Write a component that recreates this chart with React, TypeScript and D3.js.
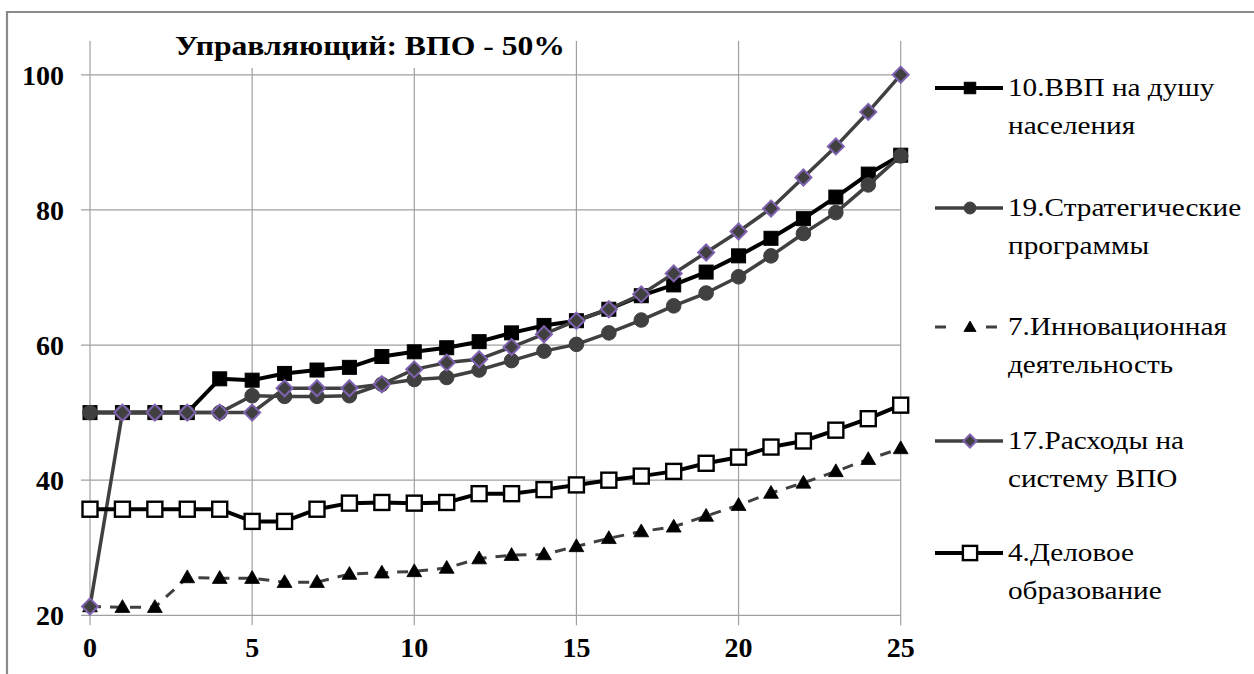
import React from "react";
import * as d3 from "d3";

// Years of the forecast horizon
const steps: number[] = d3.range(0, 26);

// 10. ВВП на душу населения
const gdpPerCapita: number[] = [50, 50, 50, 50, 55, 54.8, 55.8, 56.3, 56.7, 58.3, 59.0, 59.6, 60.5, 61.8, 62.9, 63.6, 65.3, 67.3, 68.9, 70.8, 73.2, 75.8, 78.7, 81.9, 85.3, 88.1];
// 19. Стратегические программы
const strategicPrograms: number[] = [50, 50, 50, 50, 50, 52.5, 52.4, 52.4, 52.5, 54.2, 54.9, 55.2, 56.3, 57.7, 59.1, 60.1, 61.8, 63.7, 65.8, 67.7, 70.1, 73.2, 76.5, 79.6, 83.7, 88.0];
// 7. Инновационная деятельность
const innovation: number[] = [21.3, 21.2, 21.2, 25.6, 25.5, 25.5, 24.9, 24.9, 26.1, 26.3, 26.5, 27.0, 28.4, 28.9, 29.0, 30.2, 31.4, 32.4, 33.1, 34.7, 36.3, 38.1, 39.6, 41.3, 43.1, 44.7];
// 17. Расходы на систему ВПО
const heSpending: number[] = [21.3, 50, 50, 50, 50, 50, 53.6, 53.6, 53.6, 54.2, 56.4, 57.4, 57.9, 59.7, 61.6, 63.6, 65.3, 67.5, 70.6, 73.7, 76.8, 80.2, 84.8, 89.4, 94.5, 100];
// 4. Деловое образование
const businessEducation: number[] = [35.7, 35.7, 35.7, 35.7, 35.7, 33.9, 33.9, 35.7, 36.6, 36.7, 36.6, 36.7, 38.0, 38.0, 38.6, 39.3, 40.0, 40.6, 41.3, 42.5, 43.4, 44.9, 45.8, 47.4, 49.1, 51.1];

const xTicks: number[] = [0, 5, 10, 15, 20, 25];
const yTicks: number[] = [20, 40, 60, 80, 100];

const chartTitle = "Управляющий: ВПО - 50%";

type Marker = "square" | "circle" | "triangle" | "diamond" | "openSquare";

interface Series {
  lines: string[];
  values: number[];
  stroke: string;
  width: number;
  dash?: string;
  legendDash?: string;
  marker: Marker;
  fill: string;
  markerStroke: string;
}

const series: Series[] = [
  { lines: ["10.ВВП на душу", "населения"], values: gdpPerCapita, stroke: "#000000", width: 4, marker: "square", fill: "#000000", markerStroke: "#000000" },
  { lines: ["19.Стратегические", "программы"], values: strategicPrograms, stroke: "#404040", width: 3.5, marker: "circle", fill: "#404040", markerStroke: "#404040" },
  { lines: ["7.Инновационная", "деятельность"], values: innovation, stroke: "#404040", width: 3, dash: "11,9", legendDash: "11,40", marker: "triangle", fill: "#000000", markerStroke: "#000000" },
  { lines: ["17.Расходы на", "систему ВПО"], values: heSpending, stroke: "#404040", width: 3.5, marker: "diamond", fill: "#404040", markerStroke: "#7f62b0" },
  { lines: ["4.Деловое", "образование"], values: businessEducation, stroke: "#000000", width: 4, marker: "openSquare", fill: "#ffffff", markerStroke: "#000000" },
];

const W = 1254;
const H = 674;
const FONT = '"Liberation Serif", "Times New Roman", serif';
const GRID = "#a0a0a0";

const x = d3.scaleLinear().domain([0, 25]).range([90, 900.7]);
const y = d3.scaleLinear().domain([20, 105]).range([615.3, 41]);

function MarkerShape({ kind, cx, cy, fill, stroke, scale = 1 }: { kind: Marker; cx: number; cy: number; fill: string; stroke: string; scale?: number }) {
  switch (kind) {
    case "square": {
      const s = 14 * scale;
      return <rect x={cx - s / 2} y={cy - s / 2} width={s} height={s} fill={fill} stroke={stroke} strokeWidth={1} />;
    }
    case "openSquare": {
      const s = 15 * scale;
      return <rect x={cx - s / 2} y={cy - s / 2} width={s} height={s} fill={fill} stroke={stroke} strokeWidth={2.4} />;
    }
    case "circle":
      return <circle cx={cx} cy={cy} r={7.3 * scale} fill={fill} stroke={stroke} strokeWidth={1} />;
    case "triangle": {
      const p = d3.symbol(d3.symbolTriangle, 95 * scale * scale)();
      return <path d={p ?? ""} transform={`translate(${cx},${cy + 1})`} fill={fill} stroke={stroke} strokeWidth={0.8} />;
    }
    case "diamond": {
      const r = 8 * scale;
      return (
        <path
          d={`M${cx},${cy - r}L${cx + r},${cy}L${cx},${cy + r}L${cx - r},${cy}Z`}
          fill={fill}
          stroke={stroke}
          strokeWidth={2}
        />
      );
    }
  }
}

const textStyle: React.CSSProperties = { fontFamily: FONT };

export default function App() {
  const line = d3
    .line<number>()
    .x((_, i) => x(steps[i]))
    .y((v) => y(v));

  const legendX0 = 935;
  const legendX1 = 1003;
  const legendMarkX = 970;
  const legendTextX = 1008;
  const legendY = [88, 208, 327, 441, 553];

  return (
    <svg width={W} height={H} style={{ position: "absolute", left: 0, top: 0, background: "#fff" }}>
      <rect x={0} y={0} width={W} height={H} fill="#ffffff" />
      {/* outer frame */}
      <path d={`M7,${H + 5}L7,12L${W + 5},12`} fill="none" stroke="#8a8a8a" strokeWidth={2.2} />

      {/* vertical grid */}
      {xTicks.map((t) => (
        <line key={`vx${t}`} x1={x(t)} x2={x(t)} y1={y(105)} y2={y(20) + 10} stroke={GRID} strokeWidth={1.2} />
      ))}
      {/* horizontal grid */}
      {yTicks.map((t) => (
        <line key={`hy${t}`} x1={x(0) - 9} x2={x(25)} y1={y(t)} y2={y(t)} stroke={GRID} strokeWidth={1.2} />
      ))}

      {/* title with its own white backing */}
      <rect x={170} y={22} width={402} height={46} fill="#ffffff" />
      <text
        x={175}
        y={55}
        fontSize={28}
        fontWeight="bold"
        fill="#000"
        style={textStyle}
        textLength={390}
        lengthAdjust="spacingAndGlyphs"
      >
        {chartTitle}
      </text>

      {/* axis labels */}
      {yTicks.map((t) => (
        <text key={`yl${t}`} x={64} y={y(t)} dy="0.35em" textAnchor="end" fontSize={28} fontWeight="bold" fill="#000" style={textStyle}>
          {t}
        </text>
      ))}
      {xTicks.map((t) => (
        <text key={`xl${t}`} x={x(t)} y={657} textAnchor="middle" fontSize={28} fontWeight="bold" fill="#000" style={textStyle}>
          {t}
        </text>
      ))}

      {/* series */}
      {series.map((s, si) => (
        <g key={`s${si}`}>
          <path d={line(s.values) ?? ""} fill="none" stroke={s.stroke} strokeWidth={s.width} strokeDasharray={s.dash} strokeLinejoin="round" />
          {s.values.map((v, i) => (
            <MarkerShape key={i} kind={s.marker} cx={x(steps[i])} cy={y(v)} fill={s.fill} stroke={s.markerStroke} />
          ))}
        </g>
      ))}

      {/* legend */}
      {series.map((s, si) => (
        <g key={`lg${si}`}>
          <line x1={legendX0} x2={s.legendDash ? 998 : legendX1} y1={legendY[si]} y2={legendY[si]} stroke={s.stroke} strokeWidth={s.width} strokeDasharray={s.legendDash} />
          <MarkerShape kind={s.marker} cx={legendMarkX} cy={legendY[si]} fill={s.fill} stroke={s.markerStroke} scale={s.marker === "openSquare" ? 0.95 : 0.82} />
          {s.lines.map((ln, li) => (
            <text
              key={li}
              transform={`translate(${legendTextX},${legendY[si] + 8 + li * 38}) scale(1.17,1)`}
              fontSize={25}
              fill="#000"
              style={textStyle}
            >
              {ln}
            </text>
          ))}
        </g>
      ))}
    </svg>
  );
}
